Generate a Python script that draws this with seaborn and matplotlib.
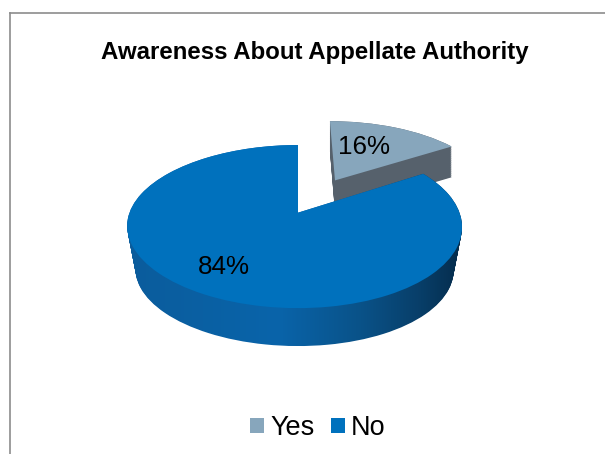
import numpy as np
import matplotlib
matplotlib.use("Agg")
import matplotlib.pyplot as plt
import matplotlib.transforms as mtransforms
from matplotlib.colors import LinearSegmentedColormap
from matplotlib.patches import Patch
import seaborn as sns

# --- Data ---
title = "Awareness About Appellate Authority"
labels = ["Yes", "No"]
values = [16, 84]
value_labels = ["16%", "84%"]
explode = [0.5, 0]

# --- Style ---
sns.set_theme(style="white")
plt.rcParams["font.family"] = ["Liberation Sans", "DejaVu Sans"]
top_colors = sns.color_palette(["#87A6BC", "#0071BD"])
yes_wall = "#56616C"
no_wall = LinearSegmentedColormap.from_list(
    "no_wall",
    [(0.0, "#0B5C9C"), (0.45, "#0964AA"), (0.7, "#0A5288"), (0.88, "#083E68"), (1.0, "#052C4C")],
)
n_layers = 46


# The flat pie is pushed through a perspective map so it looks like the 3D original
class TiltedPie(mtransforms.Transform):
    input_dims = 2
    output_dims = 2

    def __init__(self, depth_frac, cx, bend, wall, x_shrink, y_shrink):
        super().__init__()
        self.depth_frac = depth_frac
        self.cx = cx
        self.bend = bend
        self.wall = wall
        self.x_shrink = x_shrink
        self.y_shrink = y_shrink

    def transform_non_affine(self, values):
        x, y = np.asarray(values).T
        w = 1 + 0.17 * y
        sx = 1 - self.x_shrink * self.depth_frac
        sy = 1 - self.y_shrink * self.depth_frac
        px = self.cx + 165 * sx * x / w - self.bend * x ** 2
        py = 212.7 - 79.2 * sy * y / w + self.wall * self.depth_frac / w
        return np.column_stack([px, py])


yes_shape = dict(cx=298, bend=0, wall=32, x_shrink=0.0, y_shrink=0.05)
no_shape = dict(cx=298, bend=3.5, wall=44, x_shrink=0.05, y_shrink=0.158)

fig = plt.figure(figsize=(6.05, 4.54), dpi=100, facecolor="white")
ax = fig.add_axes([10 / 605, 0, 595 / 605, 441 / 454])


def draw_pie(depth_frac, colors, z):
    wedges, _ = ax.pie(values, explode=explode, colors=colors, startangle=90,
                       counterclock=False, labeldistance=None)
    wedges[0].set_transform(TiltedPie(depth_frac, **yes_shape) + ax.transData)
    wedges[1].set_transform(TiltedPie(depth_frac, **no_shape) + ax.transData)
    for wedge in wedges:
        wedge.set_linewidth(0)
        wedge.set_zorder(z)
    return wedges


# --- Side walls, back to front ---
gradient = np.linspace(0, 1, 256).reshape(1, -1)
z = 1
for depth_frac in np.linspace(1, 0, n_layers):
    wedges = draw_pie(depth_frac, [yes_wall, no_wall(0.5)], z)
    wedges[1].set_visible(False)
    z += 1
for depth_frac in np.linspace(1, 0, n_layers):
    wedges = draw_pie(depth_frac, [yes_wall, no_wall(0.5)], z)
    wedges[0].set_visible(False)
    wedges[1].set_visible(False)
    im = ax.imshow(gradient, cmap=no_wall, extent=(127, 462, 360, 140),
                   aspect="auto", zorder=z)
    im.set_clip_path(wedges[1])
    z += 1

# --- Top faces ---
draw_pie(0, top_colors, z)

ax.set_aspect("auto")
ax.set_xlim(10, 605)
ax.set_ylim(454, 13)
ax.set_xticks([])
ax.set_yticks([])

# --- Chart frame ---
ax.set_frame_on(True)
for side, spine in ax.spines.items():
    spine.set_visible(side in ("left", "top"))
    spine.set_color("#8C8C8C")
    spine.set_linewidth(1.2)

# --- Text ---
ax.text(314.5, 53, title, ha="center", va="center", fontsize=17.3,
        fontweight="bold", color="black", zorder=z + 1)
ax.text(364, 147, value_labels[0], ha="center", va="center", fontsize=18.7,
        color="black", zorder=z + 1)
ax.text(224, 267, value_labels[1], ha="center", va="center", fontsize=18.7,
        color="black", zorder=z + 1)

handles = [Patch(facecolor=c, edgecolor="none") for c in top_colors]
ax.legend(handles, labels, ncol=2, loc="center", bbox_to_anchor=(318, 428),
          bbox_transform=ax.transData, frameon=False, fontsize=19.5,
          handlelength=0.52, handleheight=0.52, handletextpad=0.22,
          columnspacing=0.6, labelcolor="black", borderpad=0)

fig.savefig("out.png", dpi=100, facecolor="white")
plt.close(fig)
